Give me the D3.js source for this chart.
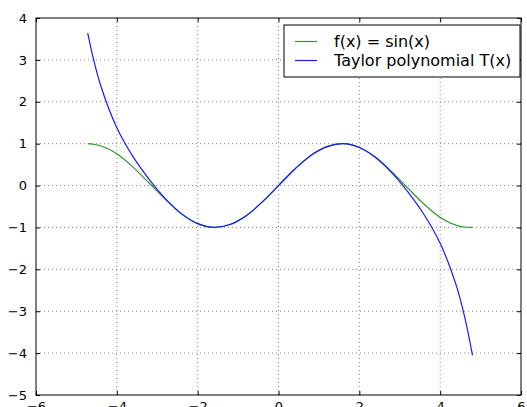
<!DOCTYPE html>
<html>
<head>
<meta charset="utf-8">
<script src="https://cdn.jsdelivr.net/npm/d3@7"></script>
<style>
  body { margin: 0; background: #fff; }
  svg { display: block; font-family: "DejaVu Sans", sans-serif; }
</style>
</head>
<body>
<svg width="527" height="407"></svg>
<script>
// values
let xs = [-4.72, -4.6, -4.4, -4.0, -3.6, -3.2, -2.8, -2.4, -2.0, -1.6, -1.2, -0.8, -0.4,
          0, 0.4, 0.8, 1.2, 1.6, 2.0, 2.4, 2.8, 3.2, 3.6, 4.0, 4.4, 4.6, 4.8];
let sinValues = [1.00, 0.99, 0.95, 0.76, 0.44, 0.06, -0.33, -0.68, -0.91, -1.00, -0.93, -0.72, -0.39,
                 0, 0.39, 0.72, 0.93, 1.00, 0.91, 0.68, 0.33, -0.06, -0.44, -0.76, -0.95, -0.99, -1.00];
let taylorValues = [3.64, 3.11, 2.39, 1.38, 0.69, 0.15, -0.31, -0.67, -0.91, -1.00, -0.93, -0.72, -0.39,
                    0, 0.39, 0.72, 0.93, 1.00, 0.91, 0.67, 0.31, -0.15, -0.69, -1.38, -2.39, -3.11, -4.05];
let xTicks = [-6, -4, -2, 0, 2, 4, 6];
let yTicks = [-5, -4, -3, -2, -1, 0, 1, 2, 3, 4];
let seriesNames = ["f(x) = sin(x)", "Taylor polynomial T(x)"];
let seriesColors = ["#2f962f", "#1a1aff"];

let svg = d3.select("svg"),
    margin = { top: 18, right: 6, bottom: 12, left: 36 },
    width = 527 - margin.left - margin.right,
    height = 407 - margin.top - margin.bottom,
    g = svg.append("g").attr("transform", "translate(" + margin.left + "," + margin.top + ")");

let x = d3.scaleLinear().domain([-6, 6]).range([0, width]);
let y = d3.scaleLinear().domain([-5, 4]).range([height, 0]);

let fmt = d => (d < 0 ? "\u2212" + Math.abs(d) : "" + d);

// dotted grid
g.append("g").selectAll("line")
    .data(xTicks.slice(1, -1))
    .enter().append("line")
    .attr("x1", d => x(d)).attr("x2", d => x(d))
    .attr("y1", 0).attr("y2", height)
    .attr("stroke", "#888").attr("stroke-dasharray", "1,3");
g.append("g").selectAll("line")
    .data(yTicks.slice(1, -1))
    .enter().append("line")
    .attr("y1", d => y(d)).attr("y2", d => y(d))
    .attr("x1", 0).attr("x2", width)
    .attr("stroke", "#888").attr("stroke-dasharray", "1,3");

// axes, ticks pointing inward
let xAxis = g.append("g")
    .attr("transform", "translate(0," + height + ")")
    .call(d3.axisBottom(x).tickValues(xTicks).tickFormat(fmt).tickSizeInner(-4).tickSizeOuter(0).tickPadding(7));
let xAxisTop = g.append("g")
    .call(d3.axisTop(x).tickValues(xTicks).tickFormat("").tickSizeInner(-4).tickSizeOuter(0));
let yAxis = g.append("g")
    .call(d3.axisLeft(y).tickValues(yTicks).tickFormat(fmt).tickSizeInner(-4).tickSizeOuter(0).tickPadding(9));
let yAxisRight = g.append("g")
    .attr("transform", "translate(" + width + ",0)")
    .call(d3.axisRight(y).tickValues(yTicks).tickFormat("").tickSizeInner(-4).tickSizeOuter(0));

[xAxis, xAxisTop, yAxis, yAxisRight].forEach(a => {
    a.select(".domain").remove();
    a.selectAll("line").attr("stroke", "#000");
    a.selectAll("text").attr("font-size", 13).attr("font-family", "DejaVu Sans").attr("fill", "#000");
});

// curves
let line = d3.line()
    .x(d => x(d[0]))
    .y(d => y(d[1]))
    .curve(d3.curveCatmullRom);

[sinValues, taylorValues].forEach((vals, i) => {
    g.append("path")
        .datum(xs.map((xv, j) => [xv, vals[j]]))
        .attr("d", line)
        .attr("fill", "none")
        .attr("stroke", seriesColors[i])
        .attr("stroke-width", 1.2);
});

// frame
g.append("rect")
    .attr("width", width).attr("height", height)
    .attr("fill", "none").attr("stroke", "#000").attr("stroke-width", 1);

// legend
let legend = g.append("g").attr("transform", "translate(" + (width - 237) + ",7)");
legend.append("rect")
    .attr("width", 236).attr("height", 52)
    .attr("fill", "#fff").attr("stroke", "#000");
let item = legend.selectAll("g")
    .data(seriesNames)
    .enter().append("g")
    .attr("transform", (d, i) => "translate(0," + (16.5 + i * 19) + ")");
item.append("line")
    .attr("x1", 11).attr("x2", 33)
    .attr("stroke", (d, i) => seriesColors[i]).attr("stroke-width", 1.2);
item.append("text")
    .attr("x", 50).attr("dy", "0.35em")
    .attr("font-size", 16)
    .text(d => d);
</script>
</body>
</html>
